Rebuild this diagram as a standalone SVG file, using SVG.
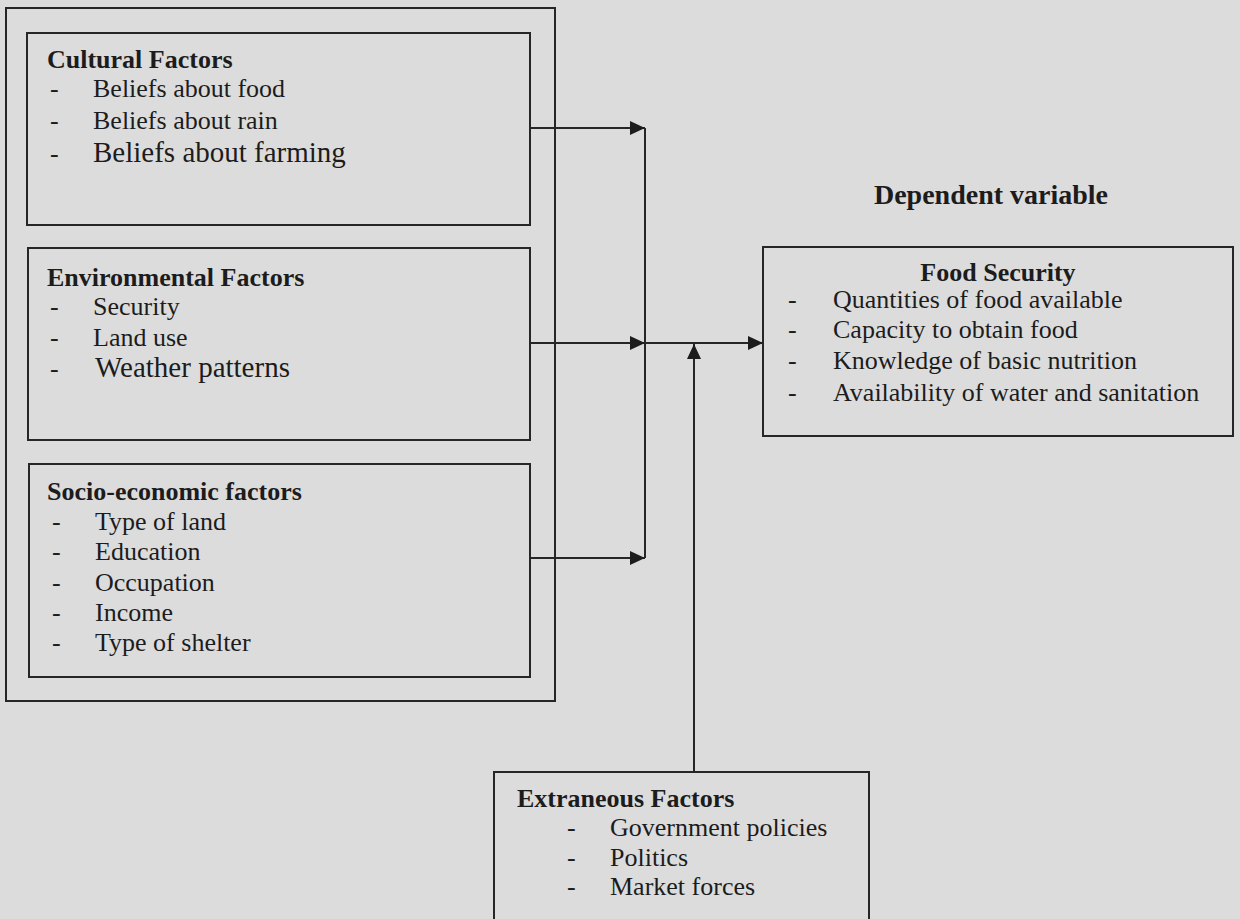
<svg xmlns="http://www.w3.org/2000/svg" width="1240" height="919" viewBox="0 0 1240 919">
<style>
.bg{fill:#dcdcdc}
.box{fill:none;stroke:#262626;stroke-width:2}
.t{font-family:"Liberation Serif","Times New Roman",serif;fill:#1c1c1c;font-size:26px}
.b{font-weight:bold}
.big{font-size:29px}
.conn{stroke:#262626;stroke-width:2;fill:none}
</style>
<defs>
<marker id="ah" markerUnits="userSpaceOnUse" markerWidth="16" markerHeight="14" refX="15" refY="7" orient="auto">
<path d="M0,0 L15,7 L0,14 z" fill="#1c1c1c"/>
</marker>
</defs>
<rect class="bg" x="0" y="0" width="1240" height="919"/>
<g id="independent-group">
<rect class="box" x="6" y="8" width="549" height="693"/>
</g>
<g id="cultural">
<rect class="box" x="27" y="33" width="503" height="192"/>
<text class="t b" x="47" y="68">Cultural Factors</text>
<text class="t" x="50" y="97">-</text><text class="t" x="93" y="97">Beliefs about food</text>
<text class="t" x="50" y="129">-</text><text class="t" x="93" y="129">Beliefs about rain</text>
<text class="t" x="50" y="162">-</text><text class="t big" x="93" y="162">Beliefs about farming</text>
</g>
<g id="environmental">
<rect class="box" x="28" y="248" width="502" height="192"/>
<text class="t b" x="47" y="286">Environmental Factors</text>
<text class="t" x="50" y="315">-</text><text class="t" x="93" y="315">Security</text>
<text class="t" x="50" y="346">-</text><text class="t" x="93" y="346">Land use</text>
<text class="t" x="50" y="377">-</text><text class="t big" x="95" y="377">Weather patterns</text>
</g>
<g id="socio-economic">
<rect class="box" x="29" y="464" width="501" height="213"/>
<text class="t b" x="47" y="500">Socio-economic factors</text>
<text class="t" x="52" y="530">-</text><text class="t" x="95" y="530">Type of land</text>
<text class="t" x="52" y="560">-</text><text class="t" x="95" y="560">Education</text>
<text class="t" x="52" y="591">-</text><text class="t" x="95" y="591">Occupation</text>
<text class="t" x="52" y="621">-</text><text class="t" x="95" y="621">Income</text>
<text class="t" x="52" y="651">-</text><text class="t" x="95" y="651">Type of shelter</text>
</g>
<g id="dependent-label">
<text class="t b" x="991" y="204" font-size="28" text-anchor="middle" style="font-size:28px">Dependent variable</text>
</g>
<g id="food-security">
<rect class="box" x="763" y="247" width="470" height="189"/>
<text class="t b" x="998" y="281" text-anchor="middle">Food Security</text>
<text class="t" x="788" y="308">-</text><text class="t" x="833" y="308">Quantities of food available</text>
<text class="t" x="788" y="338">-</text><text class="t" x="833" y="338">Capacity to obtain food</text>
<text class="t" x="788" y="369">-</text><text class="t" x="833" y="369">Knowledge of basic nutrition</text>
<text class="t" x="788" y="401">-</text><text class="t" x="833" y="401">Availability of water and sanitation</text>
</g>
<g id="extraneous">
<rect class="box" x="494" y="772" width="375" height="160"/>
<text class="t b" x="517" y="807">Extraneous Factors</text>
<text class="t" x="567" y="836">-</text><text class="t" x="610" y="836">Government policies</text>
<text class="t" x="567" y="866">-</text><text class="t" x="610" y="866">Politics</text>
<text class="t" x="567" y="895">-</text><text class="t" x="610" y="895">Market forces</text>
</g>
<g id="connectors">
<line class="conn" x1="530" y1="128" x2="645" y2="128" marker-end="url(#ah)"/>
<line class="conn" x1="530" y1="343" x2="645" y2="343" marker-end="url(#ah)"/>
<line class="conn" x1="530" y1="558" x2="645" y2="558" marker-end="url(#ah)"/>
<line class="conn" x1="645" y1="128" x2="645" y2="558"/>
<line class="conn" x1="645" y1="343" x2="763" y2="343" marker-end="url(#ah)"/>
<line class="conn" x1="694" y1="772" x2="694" y2="344" marker-end="url(#ah)"/>
</g>
</svg>
